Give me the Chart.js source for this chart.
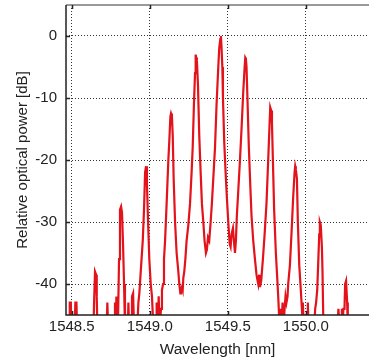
<!DOCTYPE html>
<html>
<head>
<meta charset="utf-8">
<script src="https://cdn.jsdelivr.net/npm/chart.js@4/dist/chart.umd.min.js"></script>
<style>
  html, body { margin: 0; padding: 0; background: #fff; }
  #wrap { width: 369px; height: 360px; }
</style>
</head>
<body>
<div id="wrap"><canvas id="chart"></canvas></div>
<script>
// spectrum: wavelength [nm] and relative power [dB]
// (-47 means the trace is below the bottom of the plot)
const wavelength = [
  1548.462, 1548.483, 1548.487, 1548.494, 1548.498, 1548.519, 1548.523, 1548.530, 1548.534,
  1548.639, 1548.643, 1548.649, 1548.656, 1548.660, 1548.664,
  1548.724, 1548.728, 1548.733,
  1548.773, 1548.777, 1548.782, 1548.786, 1548.790,
  1548.797, 1548.803, 1548.809, 1548.816, 1548.822, 1548.829, 1548.835, 1548.841,
  1548.859, 1548.863, 1548.867, 1548.882, 1548.886, 1548.893, 1548.899,
  1548.920, 1548.927, 1548.933, 1548.942, 1548.955, 1548.963, 1548.970, 1548.976, 1548.982,
  1548.989, 1548.997, 1549.006, 1549.014, 1549.023,
  1549.040, 1549.044, 1549.051, 1549.057, 1549.063, 1549.072, 1549.078, 1549.085, 1549.091,
  1549.098, 1549.108, 1549.119, 1549.125, 1549.132, 1549.136, 1549.142, 1549.147, 1549.153,
  1549.162, 1549.172, 1549.183, 1549.189, 1549.196, 1549.200, 1549.206, 1549.211, 1549.215,
  1549.221, 1549.228, 1549.236, 1549.247, 1549.258, 1549.268, 1549.275, 1549.283, 1549.290,
  1549.294, 1549.298, 1549.302, 1549.309, 1549.317, 1549.326, 1549.334, 1549.343, 1549.351,
  1549.360, 1549.366, 1549.373, 1549.381, 1549.390, 1549.398, 1549.407, 1549.418, 1549.428,
  1549.439, 1549.445, 1549.452, 1549.456, 1549.460, 1549.465, 1549.469, 1549.477, 1549.486,
  1549.494, 1549.503, 1549.512, 1549.518, 1549.524, 1549.533, 1549.539, 1549.546, 1549.552,
  1549.558, 1549.567, 1549.578, 1549.588, 1549.599, 1549.608, 1549.612, 1549.616, 1549.620,
  1549.627, 1549.635, 1549.644, 1549.652, 1549.663, 1549.674, 1549.684, 1549.691, 1549.695,
  1549.701, 1549.706, 1549.714, 1549.725, 1549.736, 1549.748, 1549.759, 1549.768, 1549.772,
  1549.778, 1549.783, 1549.789, 1549.797, 1549.808, 1549.819, 1549.825, 1549.832, 1549.838,
  1549.844, 1549.851, 1549.857, 1549.864, 1549.870, 1549.876, 1549.883, 1549.887, 1549.898,
  1549.908, 1549.919, 1549.928, 1549.932, 1549.936, 1549.943, 1549.949, 1549.958, 1549.968,
  1549.975, 1549.981, 1549.987,
  1550.009, 1550.013, 1550.017,
  1550.054, 1550.060, 1550.066, 1550.073, 1550.079, 1550.086, 1550.090, 1550.096, 1550.103,
  1550.107, 1550.113,
  1550.203, 1550.209, 1550.216, 1550.226, 1550.231, 1550.235, 1550.241, 1550.248, 1550.252,
  1550.258, 1550.265, 1550.269, 1550.406
];
const power = [
  -47, -47, -43, -43, -47, -47, -43, -43, -47,
  -47, -43, -38, -38.5, -42, -47,
  -47, -43, -47,
  -47, -43, -47, -42, -47,
  -45, -36, -28, -27.5, -28.5, -34, -40, -47,
  -47, -43, -47, -47, -42, -41.5, -47,
  -47, -43, -41.5, -38, -33, -28, -22, -21, -24,
  -30, -36, -40, -42, -47,
  -47, -43, -47, -42, -47, -44, -41, -40, -36,
  -33, -27, -20, -17, -13, -12.5, -13, -16, -23,
  -30, -35, -38, -40, -41.5, -41, -40.5, -41, -39,
  -38, -36, -33, -30.5, -27, -22, -18, -11, -6,
  -3, -3.5, -4, -8, -16, -22, -27, -30, -33,
  -35, -34.5, -32.5, -33, -30, -27, -23, -18, -11,
  -5, -2, -0.5, 0, -2, -5, -10, -17, -22,
  -26, -30, -33.5, -34, -32, -31, -33, -35, -33,
  -29, -25, -20, -15, -9, -5, -3.5, -3.7, -5,
  -11, -18, -24, -29, -33, -36, -38.5, -39.5, -40,
  -38.5, -40.5, -39.5, -36, -32, -27, -20, -14, -11.5,
  -12, -14, -20, -28, -35, -40, -43, -47, -44,
  -47, -43, -47, -44, -42, -43, -42, -40, -37,
  -32, -26, -22, -21, -21.5, -23, -30, -37, -41,
  -44, -43, -47,
  -47, -43, -47,
  -47, -44, -43, -41, -37, -32, -30, -30.5, -34,
  -38, -47,
  -47, -44, -47, -47, -44, -47, -44, -44, -40,
  -39.5, -43, -47, -47
];
const xTicks = [1548.5, 1549.0, 1549.5, 1550.0];
const yTicks = [0, -10, -20, -30, -40];

const points = wavelength.map((w, i) => ({ x: w, y: power[i] }));
const font = 'Arial, "Liberation Sans", sans-serif';

// axis lines, top border and the small inward tick marks
const frame = {
  id: 'frame',
  afterDraw(chart) {
    const { ctx, chartArea: a, scales } = chart;
    ctx.save();
    ctx.setLineDash([]);
    ctx.strokeStyle = '#999';
    ctx.lineWidth = 2;
    ctx.beginPath();
    ctx.moveTo(a.left, a.top);
    ctx.lineTo(a.right, a.top);
    ctx.stroke();
    ctx.strokeStyle = '#222';
    ctx.lineWidth = 1.5;
    ctx.beginPath();
    ctx.moveTo(a.left, a.top);
    ctx.lineTo(a.left, a.bottom);
    ctx.lineTo(a.right, a.bottom);
    yTicks.forEach(v => {
      const y = Math.round(scales.y.getPixelForValue(v)) + 0.5;
      ctx.moveTo(a.left, y);
      ctx.lineTo(a.left + 4, y);
    });
    xTicks.forEach(v => {
      const x = Math.round(scales.x.getPixelForValue(v)) + 0.5;
      ctx.moveTo(x, a.bottom);
      ctx.lineTo(x, a.bottom - 4);
      ctx.moveTo(x, a.top);
      ctx.lineTo(x, a.top + 4);
    });
    ctx.stroke();
    ctx.restore();
  }
};

new Chart(document.getElementById('chart'), {
  type: 'line',
  data: {
    datasets: [{
      data: points,
      borderColor: '#e3121b',
      borderWidth: 2.2,
      pointRadius: 0,
      tension: 0,
      fill: false
    }]
  },
  options: {
    animation: false,
    responsive: true,
    maintainAspectRatio: false,
    layout: { padding: { top: 5, right: 0, left: 0, bottom: 0 } },
    plugins: { legend: { display: false }, tooltip: { enabled: false } },
    scales: {
      x: {
        type: 'linear',
        min: 1548.463,
        max: 1550.405,
        afterBuildTicks: s => { s.ticks = xTicks.map(v => ({ value: v })); },
        afterFit: s => { s.height = 45; s.paddingLeft = 0; s.paddingRight = 0; },
        ticks: {
          padding: 3,
          color: '#222',
          font: { family: font, size: 15 },
          callback: v => Number(v).toFixed(1),
          maxRotation: 0
        },
        grid: { color: '#333', drawTicks: false, lineWidth: 1 },
        border: { display: false, dash: [1, 2] },
        title: {
          display: true,
          text: 'Wavelength [nm]',
          color: '#222',
          font: { family: font, size: 15.5 },
          padding: { top: 0, bottom: 1 }
        }
      },
      y: {
        min: -45,
        max: 5,
        afterBuildTicks: s => { s.ticks = yTicks.map(v => ({ value: v })); },
        afterFit: s => { s.width = 66; s.paddingTop = 0; s.paddingBottom = 0; },
        ticks: {
          padding: 9,
          color: '#222',
          font: { family: font, size: 15 }
        },
        grid: { color: '#333', drawTicks: false, lineWidth: 1 },
        border: { display: false, dash: [1, 2] },
        title: {
          display: true,
          text: 'Relative optical power [dB]',
          color: '#222',
          font: { family: font, size: 15 },
          padding: { top: 14, bottom: 0 }
        }
      }
    }
  },
  plugins: [frame]
});
</script>
</body>
</html>
